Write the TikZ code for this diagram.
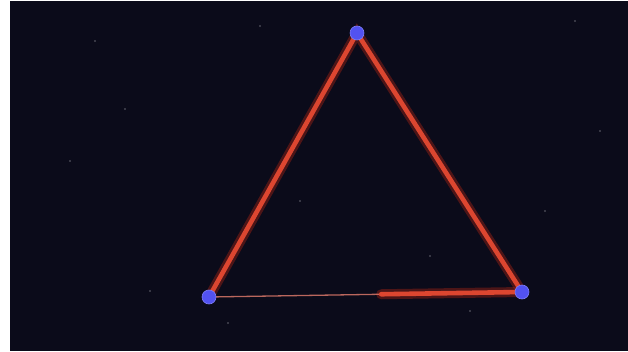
\documentclass[tikz,border=0pt]{standalone}
\usetikzlibrary{calc, backgrounds}
\definecolor{cnight}{HTML}{0B0B1A}
\definecolor{cedge}{HTML}{DC4630}
\definecolor{cglow}{HTML}{B02414}
\definecolor{cdot}{HTML}{5252F0}
\tikzset{
  every picture/.style={x=1pt, y=1pt},
  vertex/.style={circle, fill=cdot, draw=cdot!75!white, line width=0.6pt, minimum size=14pt, inner sep=0pt},
  glow/.style={draw=cglow, line width=10pt, opacity=0.4, line cap=round},
  edge/.style={draw=cedge, line width=4.6pt, line cap=round},
  thinedge/.style={draw=cedge!70!white, line width=1.3pt, opacity=0.8},
  star/.style={fill=white, opacity=0.25},
}
\begin{document}
\begin{tikzpicture}
  \useasboundingbox (0,0) rectangle (628,351);
  % vertices
  \node[vertex] (ntop) at (357,318) {};
  \node[vertex] (nleft) at (209,54) {};
  \node[vertex] (nright) at (522,59) {};
  \coordinate (mid) at ($(nleft.center)!0.55!(nright.center)$);
  \begin{scope}[on background layer]
    \fill[white] (0,0) rectangle (628,351);
    \fill[cnight] (10,0) rectangle (628,350);
    % faint stars
    \foreach \sx/\sy in {70/190, 125/242, 228/28, 430/95, 575/330, 600/220, 470/40, 150/60, 300/150, 545/140, 95/310, 260/325} {
      \fill[star] (\sx,\sy) circle (1.2);
    }
    % edges
    \draw[glow] (nleft.center) -- (ntop.center) -- (nright.center);
    \draw[glow] (mid) -- (nright.center);
    \draw[edge] (nleft.center) -- (ntop.center) -- (nright.center);
    \draw[thinedge] (nleft.center) -- (mid);
    \draw[edge] (mid) -- (nright.center);
  \end{scope}
\end{tikzpicture}
\end{document}
